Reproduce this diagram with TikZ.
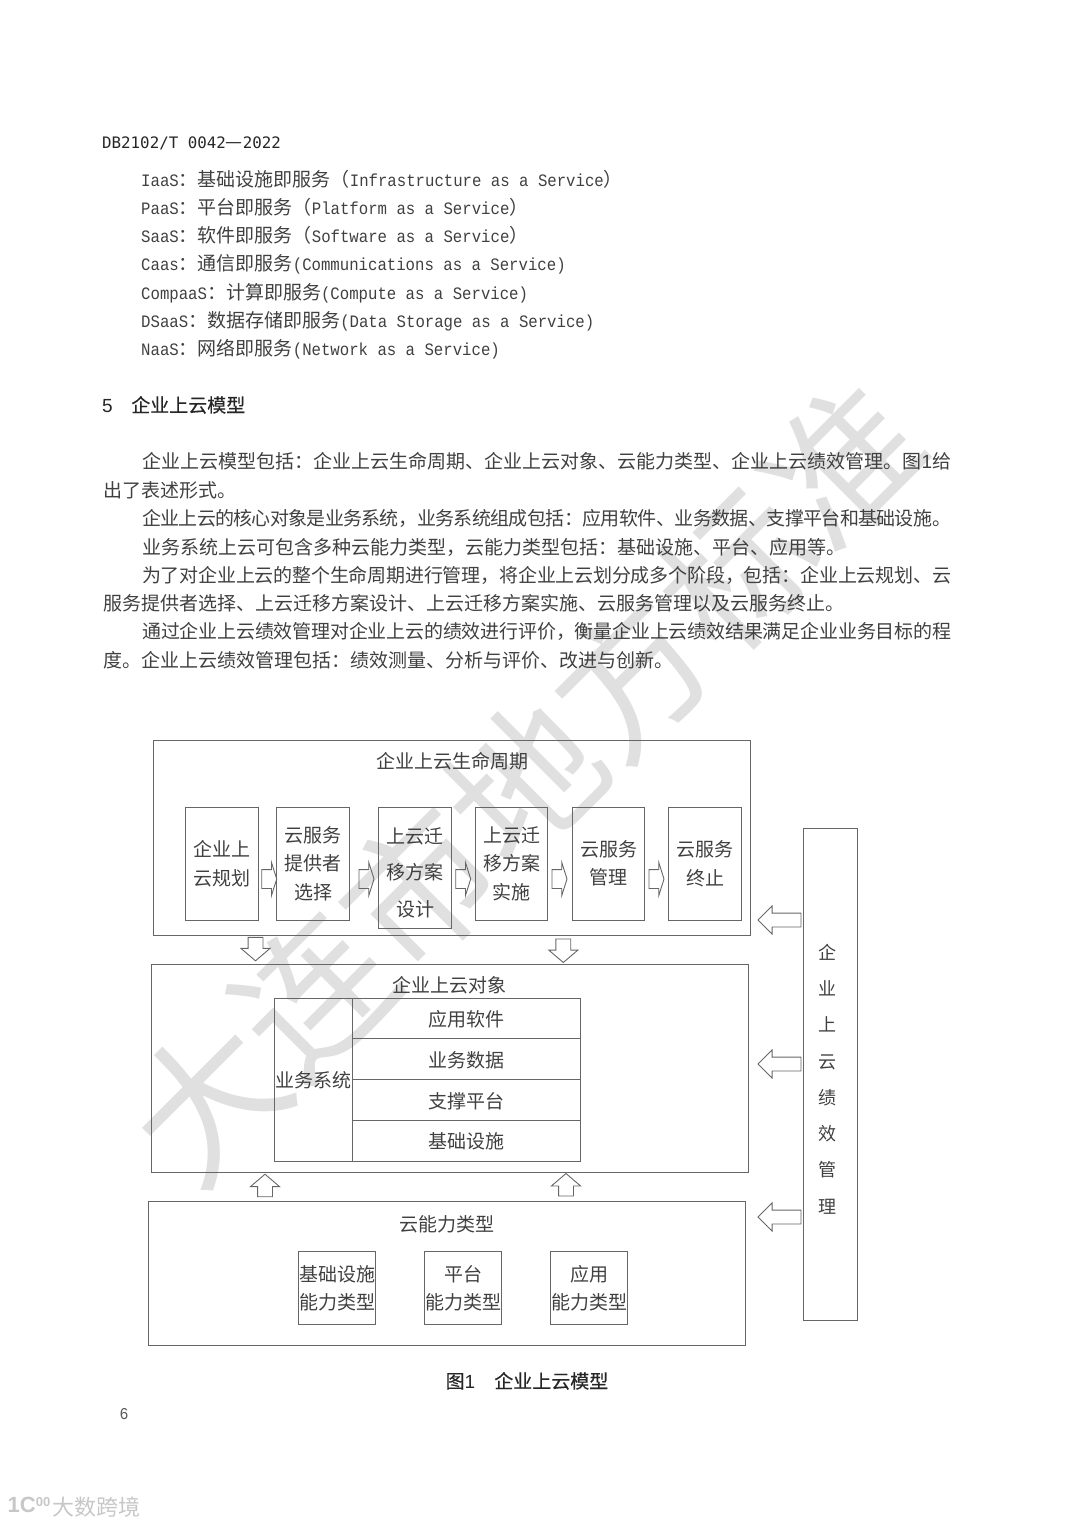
\documentclass[tikz,border=0pt]{standalone}
\usepackage{fontspec}
\setmainfont{Noto Sans CJK SC}
\newfontfamily\cjk{Noto Sans CJK SC}
\newfontfamily\heiti[FakeBold=0.3]{Noto Sans CJK SC}
\newfontfamily\mono[Scale=0.917,FakeStretch=0.9]{Liberation Mono}
\newfontfamily\gothic{DejaVu Sans Mono}
\newfontfamily\arialn{Liberation Sans}
\usetikzlibrary{shapes,arrows,positioning,fit,calc}
\XeTeXlinebreaklocale "zh"
\XeTeXlinebreakskip=0pt plus 1pt minus 0.8pt
\newcommand{\fitline}[1]{\parbox[b]{809pt}{\tolerance=9999\parfillskip=0pt #1}}
\definecolor{linegray}{gray}{0.4}
\definecolor{inkgray}{gray}{0.25}
\tikzset{
    txtline/.style={anchor=west, inner sep=0pt, text=inkgray, text height=16.7pt, text depth=2.3pt, font=\cjk\fontsize{19}{28}\selectfont},
    headline/.style={txtline, text=black!85, font=\heiti\fontsize{19}{28}\selectfont},
    textdown/.style={execute at begin node={\rule{0pt}{#1}}},
    bigbox/.style={draw=linegray, line width=1pt, inner sep=0pt},
    stagebox/.style={draw=linegray, line width=1pt, inner sep=0pt, text=inkgray, align=center, minimum width=72.5pt, minimum height=113pt, font=\cjk\fontsize{19}{28.5}\selectfont},
    kindbox/.style={stagebox, minimum width=77.5pt, minimum height=72.5pt, font=\cjk\fontsize{19}{28}\selectfont},
    rowbox/.style={stagebox, minimum width=228pt, minimum height=40.8pt},
    boxtitle/.style={inner sep=0pt, text=inkgray, font=\cjk\fontsize{19}{28}\selectfont},
    blockarrow/.style={draw=linegray, line width=0.9pt, single arrow, inner sep=0pt, outer sep=0pt, anchor=tail},
    rarrow/.style={blockarrow, inner xsep=0pt, inner ysep=9pt, minimum height=15pt, minimum width=32pt, single arrow tip angle=145, shape border rotate=0},
    darrow/.style={blockarrow, inner sep=7pt, minimum height=23.5pt, minimum width=28pt, single arrow tip angle=99, shape border rotate=270},
    uarrow/.style={blockarrow, inner sep=7pt, minimum height=22.5pt, minimum width=28pt, single arrow tip angle=99, shape border rotate=90},
    larrow/.style={blockarrow, inner xsep=0pt, inner ysep=6.5pt, minimum height=43pt, minimum width=27pt, single arrow tip angle=90, shape border rotate=180},
}

\begin{document}
\begin{tikzpicture}[x=1pt,y=-1pt]
    \useasboundingbox (0,0) rectangle (1080,1526);
    % watermark
    \node[inner sep=0pt, text=black!12, rotate=45, font=\cjk\fontsize{150}{155}\selectfont] (mark) at (525,782) {大连市地方标准};

    % text of the page
    \node[txtline, text=black!85, font=\gothic\fontsize{15.8}{28}\selectfont] (hd) at (102,141) {DB2102/T 0042{\cjk\fontsize{19}{28}\selectfont —}2022};
    \node[txtline] (l1) at (141,179) {{\mono IaaS}：基础设施即服务（{\mono Infrastructure as a Service}）};
    \node[txtline] (l2) at (141,207) {{\mono PaaS}：平台即服务（{\mono Platform as a Service}）};
    \node[txtline] (l3) at (141,235) {{\mono SaaS}：软件即服务（{\mono Software as a Service}）};
    \node[txtline] (l4) at (141,263.5) {{\mono Caas}：通信即服务{\mono (Communications as a Service)}};
    \node[txtline] (l5) at (141,292) {{\mono CompaaS}：计算即服务{\mono (Compute as a Service)}};
    \node[txtline] (l6) at (141,320) {{\mono DSaaS}：数据存储即服务{\mono (Data Storage as a Service)}};
    \node[txtline] (l7) at (141,348.5) {{\mono NaaS}：网络即服务{\mono (Network as a Service)}};
    \node[headline] (sec) at (102,405) {{\arialn 5}\hspace{18.5pt}企业上云模型};
    \node[txtline] (p1) at (142,461.5) {\fitline{企业上云模型包括：企业上云生命周期、企业上云对象、云能力类型、企业上云绩效管理。图{\arialn 1}给}};
    \node[txtline] (p2) at (103,490) {出了表述形式。};
    \node[txtline] (p3) at (142,518) {\fitline{企业上云的核心对象是业务系统，业务系统组成包括：应用软件、业务数据、支撑平台和基础设施。}};
    \node[txtline] (p4) at (142,547) {业务系统上云可包含多种云能力类型，云能力类型包括：基础设施、平台、应用等。};
    \node[txtline] (p5) at (142,575) {\fitline{为了对企业上云的整个生命周期进行管理，将企业上云划分成多个阶段，包括：企业上云规划、云}};
    \node[txtline] (p6) at (103,603) {服务提供者选择、上云迁移方案设计、上云迁移方案实施、云服务管理以及云服务终止。};
    \node[txtline] (p7) at (142,631.5) {\fitline{通过企业上云绩效管理对企业上云的绩效进行评价，衡量企业上云绩效结果满足企业业务目标的程}};
    \node[txtline] (p8) at (103,660) {度。企业上云绩效管理包括：绩效测量、分析与评价、改进与创新。};

    % life cycle
    \node[bigbox, minimum width=597pt, minimum height=195pt] (life) at (451.5,837.5) {};
    \node[boxtitle] (lifet) at (452,761) {企业上云生命周期};
    \node[stagebox] (s1) at (222,863.5) {企业上\\云规划};
    \node[stagebox] (s2) at (313,863.5) {云服务\\提供者\\选择};
    \node[stagebox, minimum height=121pt] (s3) at (415,867.5) {};
    \node[boxtitle, align=center, font=\cjk\fontsize{19}{36.5}\selectfont] (s3t) at (415,872.5) {上云迁\\移方案\\设计};
    \node[stagebox] (s4) at (511.5,863.5) {上云迁\\移方案\\实施};
    \node[stagebox] (s5) at (608.5,863.5) {云服务\\管理};
    \node[stagebox] (s6) at (705,863.5) {云服务\\终止};
    \node[rarrow] (ra1) at (261.7,879) {};
    \node[rarrow] (ra2) at (359,879) {};
    \node[rarrow] (ra3) at (455.7,879) {};
    \node[rarrow] (ra4) at (552,879) {};
    \node[rarrow] (ra5) at (649,879) {};

    \node[darrow] (da1) at (255.5,937.3) {};
    \node[darrow] (da2) at (563.3,939) {};

    % objects
    \node[bigbox, minimum width=597pt, minimum height=208pt] (obj) at (449.5,1068) {};
    \node[boxtitle] (objt) at (449,985) {企业上云对象};
    \node[stagebox, minimum width=77.5pt, minimum height=163.5pt] (sys) at (313.5,1080) {\hspace{-2pt}业务系统\hspace{-2pt}};
    \node[rowbox, textdown=17.7pt] (r1) at (466,1018.5) {应用软件};
    \node[rowbox, textdown=17.7pt] (r2) at (466,1059.3) {业务数据};
    \node[rowbox, textdown=17.7pt] (r3) at (466,1100) {支撑平台};
    \node[rowbox] (r4) at (466,1141) {基础设施};

    \node[uarrow] (ua1) at (265,1196.7) {};
    \node[uarrow] (ua2) at (566,1196) {};

    % cloud types
    \node[bigbox, minimum width=597pt, minimum height=144pt] (kind) at (446.5,1273.5) {};
    \node[boxtitle] (kindt) at (447,1224) {云能力类型};
    \node[kindbox] (k1) at (337.2,1288) {基础设施\\能力类型};
    \node[kindbox] (k2) at (463,1288) {平台\\能力类型};
    \node[kindbox] (k3) at (589.2,1288) {应用\\能力类型};

    % performance
    \node[bigbox, minimum width=53.5pt, minimum height=492pt] (perf) at (830.3,1074.3) {};
    \node[boxtitle, align=center, font=\cjk\fontsize{18}{36.3}\selectfont] (perft) at (827,1079) {企\\业\\上\\云\\绩\\效\\管\\理};
    \node[larrow] (la1) at (801,920) {};
    \node[larrow] (la2) at (801,1064) {};
    \node[larrow] (la3) at (801,1217) {};

    % caption, page number, logo
    \node[headline, anchor=center] (cap) at (527,1381) {图{\arialn 1}\hspace{19pt}企业上云模型};
    \node[inner sep=0pt, text=black!65, font=\mono\fontsize{18}{20}\selectfont] (pg) at (124,1414) {6};
    \node[inner sep=0pt, text=black!22, font=\arialn\bfseries\fontsize{22}{22}\selectfont] (logo) at (29,1505) {1C\raisebox{6pt}{\fontsize{13}{13}\selectfont 00}};
    \node[inner sep=0pt, text=black!22, font=\cjk\fontsize{22}{22}\selectfont] (brand) at (96,1507) {大数跨境};
\end{tikzpicture}
\end{document}
